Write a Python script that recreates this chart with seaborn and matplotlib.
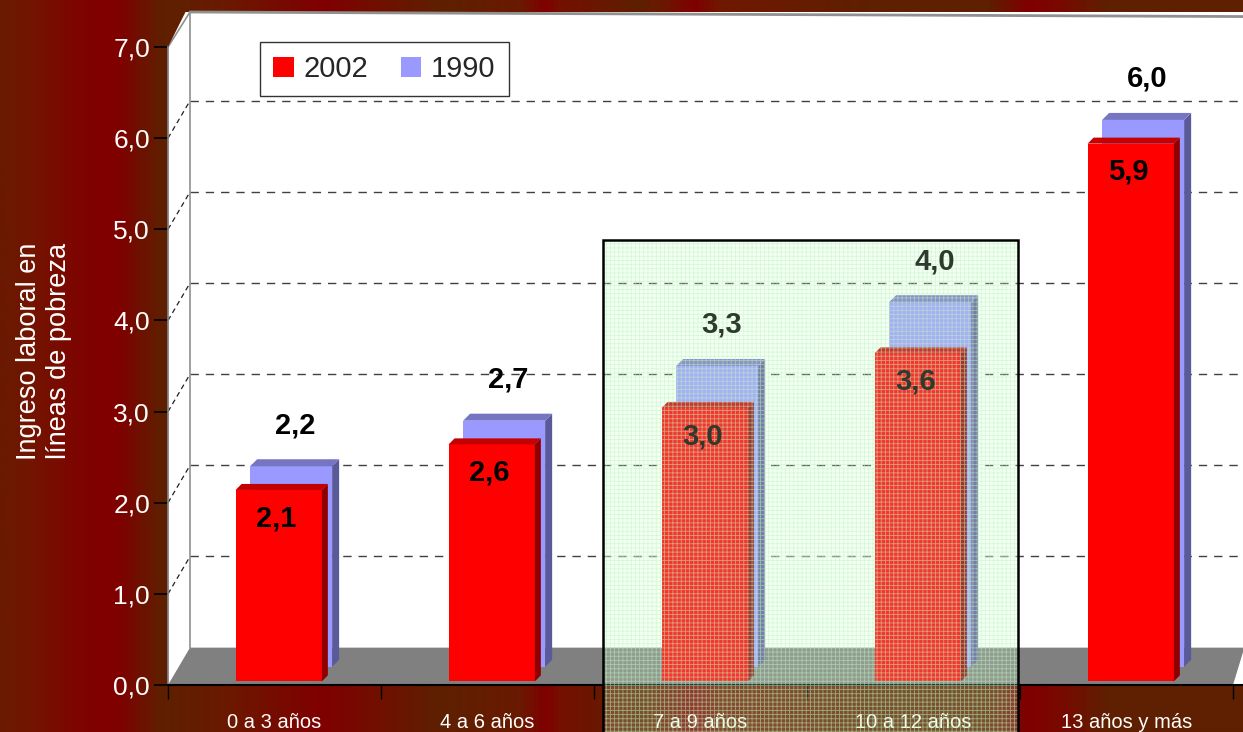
import numpy as np
import pandas as pd
import matplotlib
matplotlib.use("Agg")
import matplotlib.pyplot as plt
import seaborn as sns
from matplotlib.patches import Polygon, Rectangle, Patch
from matplotlib.colors import LinearSegmentedColormap

# ---------------- data ----------------
categories = ["0 a 3 años", "4 a 6 años", "7 a 9 años", "10 a 12 años", "13 años y más"]
values_2002 = [2.1, 2.6, 3.0, 3.6, 5.9]
values_1990 = [2.2, 2.7, 3.3, 4.0, 6.0]
y_ticks = [0, 1, 2, 3, 4, 5, 6, 7]
series_names = ["2002", "1990"]
highlight_cats = [2, 3]

# ---------------- style ----------------
sns.set_theme(style="white")
plt.rcParams["font.family"] = ["Liberation Sans", "DejaVu Sans"]
plt.rcParams["hatch.linewidth"] = 0.6

RED, RED_SIDE, RED_TOP = "#ff0000", "#8e0000", "#c40000"
BLUE, BLUE_SIDE, BLUE_TOP = "#9999ff", "#5a5a9a", "#7575c4"

W, H = 1243, 732
fig = plt.figure(figsize=(W / 100, H / 100), dpi=100)

# background with vertical stripes
bg_pos = [0, 30, 90, 115, 160, 220, 320, 350, 440, 520, 545, 560, 640, 660, 695, 720, 870, 990, 1030, 1060, 1110, 1243]
bg_col = ["#6a1a00", "#741400", "#800000", "#800000", "#5e2000", "#6a1a00", "#800000", "#780800",
          "#5e2000", "#6a1a00", "#800000", "#741000", "#5e2000", "#6a1a00", "#800000", "#701800",
          "#5e2000", "#5e2000", "#800000", "#7a0800", "#5e2000", "#5e2000"]
cmap = LinearSegmentedColormap.from_list("bg", list(zip([p / W for p in bg_pos], bg_col)))
bgax = fig.add_axes([0, 0, 1, 1], zorder=-10)
bgax.imshow(np.linspace(0, 1, W)[None, :], cmap=cmap, aspect="auto", extent=[0, 1, 0, 1])
bgax.set_axis_off()

# main axes geometry (pixels)
left_px, right_px, bottom_px, top_px = 168, 1243, 685, 12
px_per_cat, px_per_unit = 213.0, 91.14
x0_data = -0.5
x1_data = x0_data + (right_px - left_px) / px_per_cat
ytop = (bottom_px - top_px) / px_per_unit
ax = fig.add_axes([left_px / W, 1 - bottom_px / H, (right_px - left_px) / W, (bottom_px - top_px) / H])
ax.set_facecolor("white")

pos = np.arange(len(categories))
back_off = 0.41      # back wall zero level
back_dx = (190 - 168) / px_per_cat

# floor
ax.add_patch(Polygon([(x0_data, 0), (4.5, 0), (x1_data, 0.36), (x1_data, back_off),
                      (x0_data + back_dx, back_off)], closed=True, facecolor="#808080",
                     edgecolor="none", zorder=0.4))
# back wall gridlines + left wall connectors
for k in y_ticks[1:]:
    yk = k + back_off
    if yk < ytop:
        ax.plot([x0_data + back_dx, x1_data], [yk, yk], color="#404040", lw=1.0,
                dashes=(6, 5), zorder=0.5)
        ax.plot([x0_data, x0_data + back_dx], [k, yk], color="#202020", lw=0.9,
                dashes=(4, 3), zorder=0.5)
# wall edges
ax.plot([x0_data + back_dx, x0_data + back_dx], [back_off, ytop], color="#909090", lw=1.2, zorder=0.6)
ax.plot([x0_data, x0_data + back_dx], [7, ytop], color="#909090", lw=1.2, zorder=0.6, clip_on=False)
ax.plot([x0_data + back_dx, x1_data], [ytop, ytop - 0.05], color="#909090", lw=2, zorder=0.6, clip_on=False)
ax.add_patch(Polygon([(x0_data, 7), (x0_data, ytop + 0.1), (x0_data + back_dx, ytop + 0.1)],
                     closed=True, facecolor="#602000", edgecolor="none", zorder=5, clip_on=False))


def add_3d(patches, side, top, dx, dy, z):
    for p in patches:
        bx, by = p.get_x(), p.get_y()
        bw, bh = p.get_width(), p.get_height()
        ax.add_patch(Polygon([(bx + bw, by), (bx + bw + dx, by + dy), (bx + bw + dx, by + bh + dy),
                              (bx + bw, by + bh)], closed=True, facecolor=side, edgecolor="none", zorder=z))
        ax.add_patch(Polygon([(bx, by + bh), (bx + dx, by + bh + dy), (bx + bw + dx, by + bh + dy),
                              (bx + bw, by + bh)], closed=True, facecolor=top, edgecolor="none", zorder=z))


# 1990 bars (behind)
blue_base, blue_shift, blue_w = 0.20, 0.078, 0.385
n0 = len(ax.patches)
sns.barplot(x=pos + blue_shift, y=values_1990, native_scale=True, color=BLUE, saturation=1,
            width=blue_w, ax=ax, zorder=2, linewidth=0, edgecolor="none")
blue_patches = [p for p in ax.patches[n0:] if isinstance(p, Rectangle)]
for p in blue_patches:
    p.set_y(blue_base)
    p.set_zorder(2)
add_3d(blue_patches, BLUE_SIDE, BLUE_TOP, 0.033, 0.077, 2.1)

# 2002 bars (front)
red_base, red_shift, red_w = 0.04, 0.02, 0.405
n1 = len(ax.patches)
sns.barplot(x=pos + red_shift, y=values_2002, native_scale=True, color=RED, saturation=1,
            width=red_w, ax=ax, zorder=3, linewidth=0, edgecolor="none")
red_patches = [p for p in ax.patches[n1:] if isinstance(p, Rectangle)]
for p in red_patches:
    p.set_y(red_base)
    p.set_zorder(3)
add_3d(red_patches, RED_SIDE, RED_TOP, 0.028, 0.066, 3.1)

# value labels
for i in range(len(categories)):
    col = "#2e3a2e" if i in highlight_cats else "black"
    ax.text(pos[i] + blue_shift + 0.02, values_1990[i] + blue_base + 0.45, f"{values_1990[i]:.1f}".replace(".", ","),
            ha="center", va="center", fontsize=21, fontweight="bold", color=col, zorder=8)
    ax.text(pos[i] + red_shift - 0.01, values_2002[i] + red_base - 0.31, f"{values_2002[i]:.1f}".replace(".", ","),
            ha="center", va="center", fontsize=21, fontweight="bold", color=col, zorder=8)

# highlight box
bx0 = (603 - 274.5) / px_per_cat
bx1 = (1018 - 274.5) / px_per_cat
by_top = (bottom_px - 240) / px_per_unit
by_bot = -(H - bottom_px) / px_per_unit - 0.05
ax.add_patch(Rectangle((bx0, by_bot), bx1 - bx0, by_top - by_bot, facecolor=(0.82, 1.0, 0.82, 0.22),
                       edgecolor=(0.75, 0.95, 0.75, 0.55), hatch="++++", lw=0, zorder=6, clip_on=False))
ax.add_patch(Rectangle((bx0, by_bot), bx1 - bx0, by_top - by_bot, facecolor="none",
                       edgecolor="black", lw=1.8, zorder=7, clip_on=False))

# axes
ax.set_xlim(x0_data, x1_data)
ax.set_ylim(0, ytop)
ax.set_xticks(pos)
ax.set_xticklabels(categories, color="white", fontsize=14.5)
ax.set_xticks(np.arange(len(categories) + 1) - 0.5, minor=True)
ax.tick_params(axis="x", which="major", length=0, pad=20)
ax.tick_params(axis="x", which="minor", length=10, width=1, color="black", direction="out", bottom=True)
ax.set_yticks(y_ticks)
ax.set_yticklabels([f"{v:.1f}".replace(".", ",") for v in y_ticks], color="white", fontsize=19)
ax.tick_params(axis="y", length=10, width=1.2, color="black", direction="out", pad=3, left=True)
ax.set_xlabel("")
ax.set_ylabel("")
for s in ["top", "right"]:
    ax.spines[s].set_visible(False)
ax.spines["left"].set_color("#808080")
ax.spines["left"].set_bounds(0, 7)
ax.spines["bottom"].set_color("black")
ax.spines["bottom"].set_linewidth(1.5)

fig.text(44 / W, 1 - 351 / H, "Ingreso laboral en\nlíneas de pobreza", rotation=90, ha="center", va="center",
         multialignment="center", color="white", fontsize=19.5, linespacing=1.2)

handles = [Patch(facecolor=RED, edgecolor="none", label=series_names[0]),
           Patch(facecolor=BLUE, edgecolor="none", label=series_names[1])]
leg = ax.legend(handles=handles, loc="upper left", bbox_to_anchor=((260 - left_px) / (right_px - left_px), (bottom_px - 42) / (bottom_px - top_px)),
                ncol=2, fontsize=21, frameon=True, fancybox=False, borderaxespad=0, handlelength=0.7,
                handleheight=0.7, handletextpad=0.35, columnspacing=1.1, borderpad=0.45)
leg.get_frame().set_edgecolor("black")
leg.get_frame().set_linewidth(1.0)
leg.set_zorder(9)

fig.savefig("out.png", dpi=100)
